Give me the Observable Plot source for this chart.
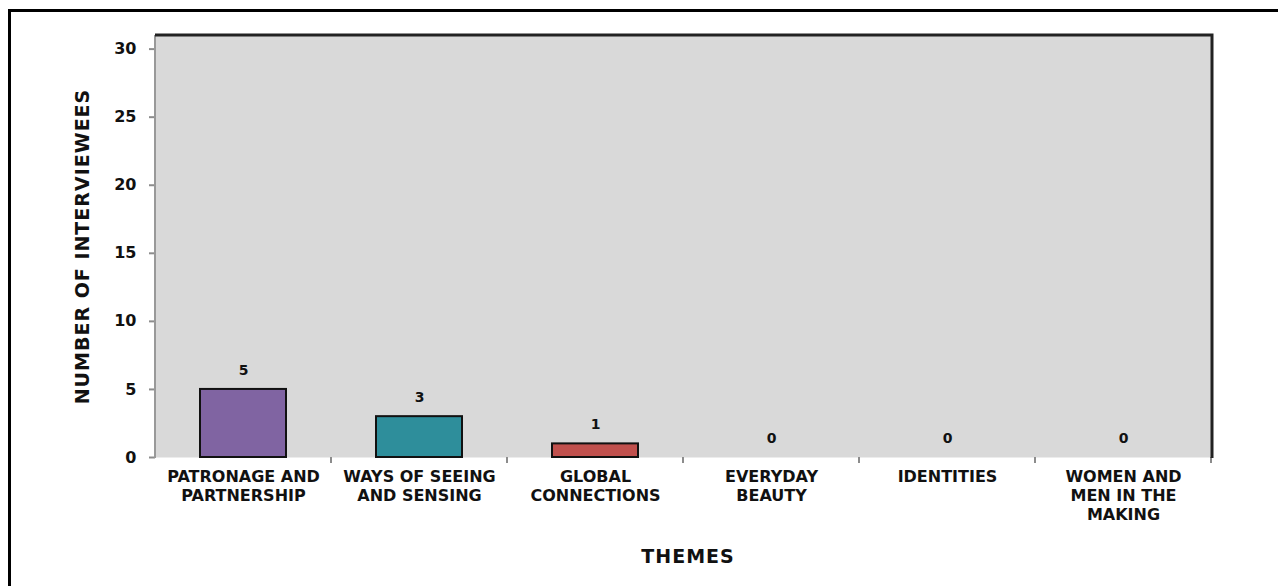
<!DOCTYPE html>
<html>
<head>
<meta charset="utf-8">
<script src="https://cdn.jsdelivr.net/npm/d3@7"></script>
<script src="https://cdn.jsdelivr.net/npm/@observablehq/plot@0.6"></script>
<style>
  html, body { margin: 0; padding: 0; background: #fff; }
  #wrap { position: relative; width: 1278px; height: 586px; overflow: hidden; }
  #edge { position: absolute; left: 8px; top: 9px; right: -10px; bottom: -10px;
          border-left: 3px solid #000; border-top: 3px solid #000; pointer-events: none; }
  #wrap svg { position: absolute; left: 0; top: 0; }
</style>
</head>
<body>
<div id="wrap"><div id="edge"></div></div>
<script>
// Interviewees per exhibition theme
const themes = [
  "Patronage and Partnership",
  "Ways of Seeing and Sensing",
  "Global Connections",
  "Everyday Beauty",
  "Identities",
  "Women and Men in the Making"
];
const themeLabels = [
  "PATRONAGE AND\nPARTNERSHIP",
  "WAYS OF SEEING\nAND SENSING",
  "GLOBAL\nCONNECTIONS",
  "EVERYDAY\nBEAUTY",
  "IDENTITIES",
  "WOMEN AND\nMEN IN THE\nMAKING"
];
const interviewees = [5, 3, 1, 0, 0, 0];
const barColors = ["#8064a2", "#2e8e9b", "#c0504d", "#9bbb59", "#4f81bd", "#f79646"];
const yTicks = [0, 5, 10, 15, 20, 25, 30];
const yMax = 31;
const yTitle = "NUMBER OF INTERVIEWEES";
const xTitle = "THEMES";

const rows = themes.map((theme, i) => ({theme, label: themeLabels[i], value: interviewees[i], color: barColors[i]}));

// Plot-area borders and the category boundary ticks under the baseline
function chartEdges(index, scales, values, dims) {
  const x = scales.x;
  const left = dims.marginLeft, right = dims.width - dims.marginRight;
  const top = dims.marginTop, bottom = dims.height - dims.marginBottom;
  const bw = typeof x.bandwidth === "function" ? x.bandwidth() : x.bandwidth;
  const step = typeof x.step === "function" ? x.step() : (right - left) / themes.length;
  const g = d3.create("svg:g");
  const bounds = themes.map(t => x(t) + bw / 2 + step / 2);
  g.selectAll("line.tick").data(bounds).join("line")
    .attr("x1", d => d).attr("x2", d => d)
    .attr("y1", bottom).attr("y2", bottom + 6)
    .attr("stroke", "#8c8c8c").attr("stroke-width", 2);
  g.append("line").attr("x1", left).attr("x2", left).attr("y1", top).attr("y2", bottom + 1)
    .attr("stroke", "#999").attr("stroke-width", 2);
  g.append("path")
    .attr("d", `M${left},${top}H${right}V${bottom + 1}`)
    .attr("fill", "none").attr("stroke", "#222").attr("stroke-width", 3);
  return g.node();
}

const chart = Plot.plot({
  width: 1278,
  height: 586,
  marginLeft: 155,
  marginRight: 66,
  marginTop: 35,
  marginBottom: 129,
  style: {fontFamily: "'DejaVu Sans', sans-serif", fontWeight: "bold", color: "#111", background: "transparent"},
  x: {domain: themes, paddingInner: 0.51, paddingOuter: 0.255, axis: null},
  y: {domain: [0, yMax], axis: null},
  marks: [
    Plot.frame({fill: "#d9d9d9", stroke: null}),
    Plot.ruleY(yTicks, {stroke: "#8c8c8c", strokeWidth: 2, x1: null}),
    Plot.axisY(yTicks, {
      tickSize: 6, tickPadding: 13, stroke: "#8c8c8c", strokeWidth: 2,
      fill: "#111", fontSize: 16, label: null
    }),
    chartEdges,
    Plot.barY(rows, {x: "theme", y: "value", fill: "color", stroke: "#111", strokeWidth: 2}),
    Plot.text(rows, {x: "theme", y: "value", text: d => String(d.value), dy: -19, fontSize: 14, fill: "#111"}),
    Plot.text(rows, {
      x: "theme", text: "label", frameAnchor: "bottom", lineAnchor: "top",
      dy: 11, lineHeight: 1.19, fontSize: 16, fill: "#111"
    }),
    Plot.text([yTitle], {
      frameAnchor: "left", textAnchor: "middle", rotate: -90, dx: -73,
      fontSize: 19, fill: "#111"
    }),
    Plot.text([xTitle], {frameAnchor: "bottom", dy: 105, dx: 4, fontSize: 19, fill: "#111"})
  ]
});

// Slightly open tracking on the two axis titles
d3.select(chart).selectAll("text")
  .filter(function () { return this.textContent === yTitle || this.textContent === xTitle; })
  .style("letter-spacing", "1px");

document.getElementById("wrap").appendChild(chart);
</script>
</body>
</html>
